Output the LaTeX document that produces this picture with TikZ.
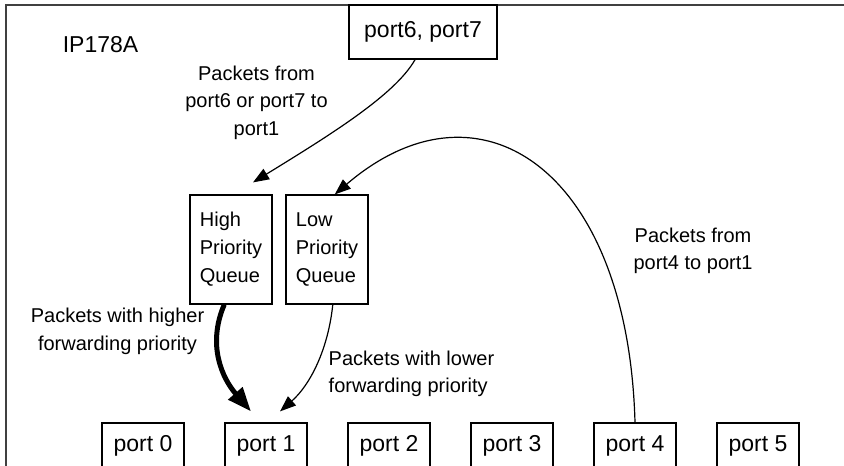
\documentclass[tikz,border=0pt]{standalone}
\usepackage{fontspec}
\setmainfont{Liberation Sans}
\usetikzlibrary{arrows.meta,calc}

\newlength{\du}
\setlength{\du}{10pt}

\tikzset{
  portbox/.style={draw, line width=0.06\du, inner sep=0pt, minimum width=4.1\du, minimum height=2.3\du, font=\fontsize{11.5}{13.5}\selectfont},
  queuebox/.style={draw, line width=0.06\du, inner sep=0pt, minimum width=4.1\du, minimum height=5.45\du, align=left, font=\fontsize{10}{14}\selectfont},
  notetext/.style={inner sep=0pt, align=center, font=\fontsize{10}{13.8}\selectfont},
  thinarrow/.style={line width=0.06\du, -{Triangle[length=8pt,width=6pt]}},
  thickarrow/.style={line width=0.25\du, -{Triangle[length=12pt,width=9pt]}},
}

\begin{document}
\begin{tikzpicture}
\pgftransformxscale{1.000000}
\pgftransformyscale{-1.000000}
\useasboundingbox (0.000000\du,0.000000\du) rectangle (42.200000\du,23.250000\du);
\definecolor{dialinecolor}{rgb}{0.250000, 0.250000, 0.250000}
\draw[line width=0.100000\du, dialinecolor] (43.000000\du,0.250000\du)--(0.300000\du,0.250000\du)--(0.300000\du,24.000000\du);
% boxes
\node[portbox, minimum width=7.400000\du, minimum height=2.700000\du] (p67) at (21.150000\du,1.600000\du) {port6, port7};
\node[queuebox] (hq) at (11.550000\du,12.475000\du) {High\\Priority\\Queue};
\node[queuebox] (lq) at (16.350000\du,12.475000\du) {Low\\Priority\\Queue};
\foreach \i [evaluate=\i as \px using 7.15+6.15*\i] in {0,...,5}
  \node[portbox] (p\i) at (\px\du,22.300000\du) {port \i};
% setfont left to latex
\node[inner sep=0pt, font=\fontsize{11.5}{13.5}\selectfont] (chip) at (5.025000\du,2.250000\du) {IP178A};
\node[notetext] (n67) at (12.825000\du,5.125000\du) {Packets from\\port6 or port7 to\\port1};
\node[notetext] (n4) at (34.650000\du,12.550000\du) {Packets from\\port4 to port1};
\node[notetext] (nhi) at (5.875000\du,16.575000\du) {Packets with higher\\forwarding priority};
\node[notetext, align=left] (nlo) at (20.575000\du,18.700000\du) {Packets with lower\\forwarding priority};
% paths of the packets
\draw[thinarrow] (p67.-106) .. controls (19.750000\du,4.750000\du) and (16.500000\du,6.750000\du) .. ($(hq.north)+(1.100000\du,-0.600000\du)$);
\draw[thinarrow] (p4.north) .. controls (31.400000\du,8.500000\du) and (24.000000\du,3.500000\du) .. (lq.82);
\draw[thickarrow] (hq.-97) .. controls (10.350000\du,17.250000\du) and (11.100000\du,18.900000\du) .. ($(p1.north)+(-0.750000\du,-0.550000\du)$);
\draw[thinarrow] (lq.-84) .. controls (16.400000\du,17.500000\du) and (15.500000\du,19.250000\du) .. ($(p1.north)+(0.700000\du,-0.550000\du)$);
\end{tikzpicture}
\end{document}
